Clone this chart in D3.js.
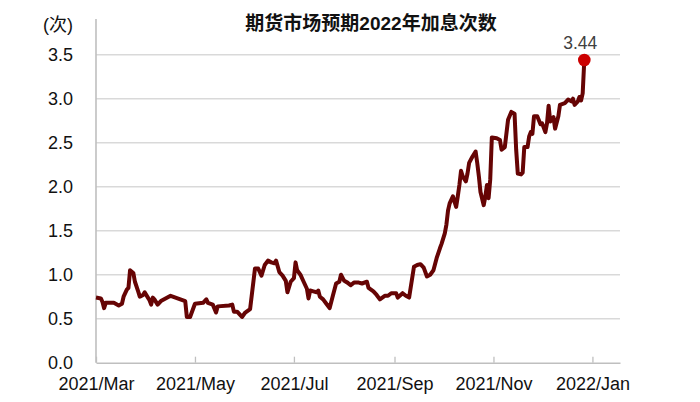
<!DOCTYPE html>
<html>
<head>
<meta charset="utf-8">
<script src="https://cdn.jsdelivr.net/npm/d3@7"></script>
<style>
  body { margin: 0; background: #fff; }
  text { font-family: "Liberation Sans", Arial, "Noto Sans CJK SC", sans-serif; }
</style>
</head>
<body>
<div id="chart"></div>
<script>
const title = "期货市场预期2022年加息次数"
const unitLabel = "(次)"

// daily readings
const dates = [
  "2021-03-01","2021-03-04","2021-03-05","2021-03-06","2021-03-07","2021-03-10","2021-03-12","2021-03-15",
  "2021-03-17","2021-03-18","2021-03-20","2021-03-21","2021-03-22","2021-03-24","2021-03-25","2021-03-27",
  "2021-03-28","2021-03-30","2021-03-31","2021-04-02","2021-04-03","2021-04-04","2021-04-05","2021-04-06",
  "2021-04-08","2021-04-10","2021-04-12","2021-04-16","2021-04-19","2021-04-22","2021-04-25","2021-04-26",
  "2021-04-28","2021-05-01","2021-05-06","2021-05-08","2021-05-09","2021-05-12","2021-05-14","2021-05-15",
  "2021-05-22","2021-05-24","2021-05-25","2021-05-27","2021-05-30","2021-06-01","2021-06-04","2021-06-07",
  "2021-06-09","2021-06-11","2021-06-13","2021-06-15","2021-06-17","2021-06-19","2021-06-20","2021-06-22",
  "2021-06-24","2021-06-26","2021-06-27","2021-06-29","2021-07-01","2021-07-02","2021-07-03","2021-07-05",
  "2021-07-07","2021-07-09","2021-07-10","2021-07-11","2021-07-13","2021-07-15","2021-07-16","2021-07-17",
  "2021-07-19","2021-07-21","2021-07-23","2021-07-25","2021-07-27","2021-07-29","2021-07-30","2021-08-01",
  "2021-08-03","2021-08-05","2021-08-07","2021-08-10","2021-08-12","2021-08-15","2021-08-16","2021-08-19",
  "2021-08-21","2021-08-23","2021-08-26","2021-08-28","2021-08-30","2021-09-02","2021-09-03","2021-09-06",
  "2021-09-08","2021-09-10","2021-09-13","2021-09-15","2021-09-17","2021-09-19","2021-09-21","2021-09-23",
  "2021-09-25","2021-09-27","2021-09-29","2021-09-30","2021-10-02","2021-10-03","2021-10-04","2021-10-05",
  "2021-10-07","2021-10-09","2021-10-10","2021-10-11","2021-10-12","2021-10-13","2021-10-15","2021-10-16",
  "2021-10-17","2021-10-19","2021-10-21","2021-10-22","2021-10-23","2021-10-24","2021-10-26","2021-10-27",
  "2021-10-28","2021-10-29","2021-10-30","2021-10-31","2021-11-03","2021-11-05","2021-11-06","2021-11-08",
  "2021-11-10","2021-11-12","2021-11-14","2021-11-15","2021-11-16","2021-11-18","2021-11-19","2021-11-20",
  "2021-11-22","2021-11-23","2021-11-24","2021-11-25","2021-11-26","2021-11-28","2021-11-30","2021-12-01",
  "2021-12-03","2021-12-04","2021-12-05","2021-12-06","2021-12-08","2021-12-09","2021-12-11","2021-12-12",
  "2021-12-15","2021-12-17","2021-12-19","2021-12-20","2021-12-21","2021-12-23","2021-12-24","2021-12-25",
  "2021-12-26","2021-12-27"
]
const hikes = [
  0.74,0.73,0.69,0.62,0.68,0.68,0.68,0.65,
  0.67,0.75,0.83,0.85,1.05,1.02,0.92,0.81,
  0.75,0.77,0.80,0.74,0.71,0.66,0.74,0.72,
  0.66,0.70,0.72,0.76,0.74,0.72,0.70,0.52,
  0.52,0.67,0.68,0.72,0.68,0.66,0.57,0.64,
  0.65,0.66,0.58,0.58,0.52,0.57,0.61,1.07,
  1.07,0.99,1.11,1.16,1.14,1.13,1.16,1.03,
  0.99,0.93,0.80,0.92,0.96,1.14,1.05,1.00,
  0.92,0.84,0.73,0.82,0.81,0.80,0.82,0.75,
  0.72,0.67,0.62,0.76,0.90,0.92,1.00,0.93,
  0.91,0.88,0.91,0.91,0.90,0.92,0.85,0.81,
  0.77,0.72,0.76,0.76,0.79,0.79,0.74,0.79,
  0.76,0.74,1.09,1.11,1.12,1.08,0.98,1.00,
  1.05,1.19,1.30,1.35,1.47,1.57,1.73,1.81,
  1.89,1.77,1.89,2.02,2.18,2.12,2.06,2.15,
  2.27,2.34,2.40,2.27,2.12,1.94,1.79,1.89,
  2.02,1.87,2.08,2.56,2.55,2.53,2.42,2.45,
  2.76,2.85,2.83,2.42,2.15,2.14,2.16,2.45,
  2.45,2.57,2.62,2.60,2.80,2.80,2.71,2.72,
  2.62,2.72,2.92,2.74,2.79,2.66,2.80,2.93,
  2.95,2.99,2.97,3.00,2.93,2.97,3.02,2.98,
  3.06,3.44
]
const yTicks = [0, 0.5, 1.0, 1.5, 2.0, 2.5, 3.0, 3.5]
const xTicks = ["2021-03-01","2021-05-01","2021-07-01","2021-09-01","2021-11-01","2022-01-01"]

const W = 700, H = 402
const plotLeft = 96, plotRight = 620, plotTop = 19, plotBottom = 362.7

const parse = d3.timeParse("%Y-%m-%d")
const data = dates.map((d, i) => ({ date: parse(d), v: hikes[i] }))

const svg = d3.select("#chart").append("svg")
  .attr("width", W)
  .attr("height", H)

const x = d3.scaleTime()
  .domain([parse("2021-03-01"), parse("2022-01-18")])
  .range([plotLeft, plotRight])

const y = d3.scaleLinear()
  .domain([0, 3.5])
  .range([plotBottom, 54.7])

// gridlines
svg.append("g")
  .selectAll("line")
  .data(yTicks.filter(d => d > 0))
  .enter().append("line")
  .attr("x1", plotLeft).attr("x2", plotRight)
  .attr("y1", d => y(d)).attr("y2", d => y(d))
  .attr("stroke", "#d9d9d9")
  .attr("stroke-width", 1.6)

// y axis
const yAxis = svg.append("g")
  .attr("transform", "translate(" + plotLeft + ",0)")
  .call(d3.axisLeft(y).tickValues(yTicks).tickFormat(d3.format(".1f")).tickSize(0).tickPadding(23))
yAxis.select(".domain").remove()
yAxis.selectAll("text")
  .style("font-size", "18px")
  .attr("fill", "#111")

svg.append("line")
  .attr("x1", plotLeft).attr("x2", plotLeft)
  .attr("y1", plotTop).attr("y2", plotBottom)
  .attr("stroke", "#bfbfbf")
  .attr("stroke-width", 1.6)

// x axis, ticks point inward
const xAxis = svg.append("g")
  .attr("transform", "translate(0," + plotBottom + ")")
  .call(d3.axisBottom(x)
    .tickValues(xTicks.map(parse))
    .tickFormat(d3.timeFormat("%Y/%b"))
    .tickSizeInner(-6)
    .tickSizeOuter(0)
    .tickPadding(15))
xAxis.select(".domain")
  .attr("stroke", "#bfbfbf")
  .attr("stroke-width", 1.6)
xAxis.selectAll(".tick line")
  .attr("stroke", "#bfbfbf")
  .attr("stroke-width", 1.3)
xAxis.selectAll("text")
  .style("font-size", "18px")
  .attr("fill", "#111")

// the series
const line = d3.line()
  .x(d => x(d.date))
  .y(d => y(d.v))

svg.append("path")
  .datum(data)
  .attr("d", line)
  .attr("fill", "none")
  .attr("stroke", "#660404")
  .attr("stroke-width", 4)
  .attr("stroke-linejoin", "round")

const last = data[data.length - 1]
svg.append("circle")
  .attr("cx", x(last.date))
  .attr("cy", y(last.v))
  .attr("r", 6.3)
  .attr("fill", "#cc0000")

svg.append("text")
  .attr("x", x(last.date) - 4)
  .attr("y", y(last.v) - 11)
  .attr("text-anchor", "middle")
  .style("font-size", "17.5px")
  .attr("fill", "#404040")
  .text(d3.format(".2f")(last.v))

// title and unit
svg.append("text")
  .attr("x", 371)
  .attr("y", 30)
  .attr("text-anchor", "middle")
  .style("font-size", "19px")
  .style("font-weight", "bold")
  .attr("fill", "#111")
  .text(title)

svg.append("text")
  .attr("x", 73)
  .attr("y", 31)
  .attr("text-anchor", "end")
  .style("font-size", "18px")
  .attr("fill", "#111")
  .text(unitLabel)
</script>
</body>
</html>
